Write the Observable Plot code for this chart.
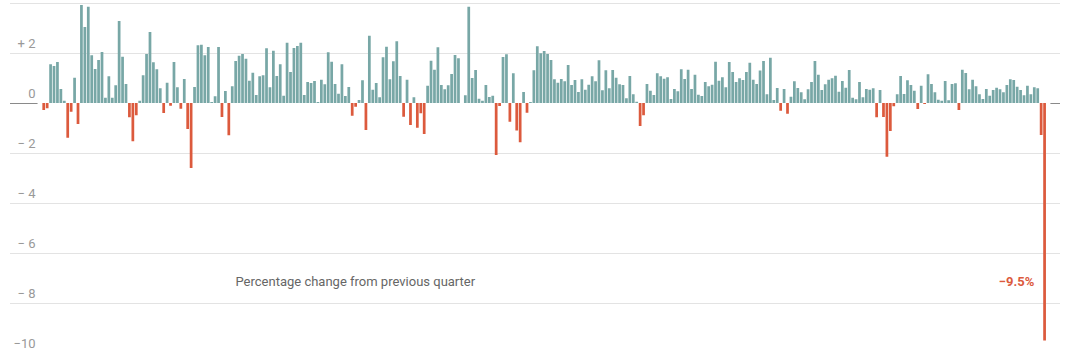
<!DOCTYPE html>
<html><head><meta charset="utf-8">
<script src="https://cdn.jsdelivr.net/npm/d3@7"></script>
<script src="https://cdn.jsdelivr.net/npm/@observablehq/plot@0.6"></script>
<style>body{margin:0;background:#fff;} #chart{width:1071px;height:353px;}</style>
</head><body><div id="chart"></div>
<script>
// Real GDP, percentage change from previous quarter, 1947 Q2 – 2020 Q2
const startYear = 1947;
const startQuarter = 2;
const values = [
 -0.28,-0.21,1.55,1.48,1.64,0.56,0.09,-1.39,-0.35,1.01,
 -0.84,3.92,3.04,3.85,1.91,1.36,1.72,2.04,0.21,1.07,
 0.21,0.71,3.28,1.85,0.76,-0.57,-1.53,-0.49,0.09,1.11,
 1.96,2.84,1.63,1.35,0.59,-0.40,0.81,-0.11,1.64,0.63,
 -0.23,0.96,-1.04,-2.60,0.64,2.31,2.33,1.91,2.24,0.04,
 0.27,2.24,-0.56,0.48,-1.29,0.67,1.68,1.89,1.96,1.77,
 0.89,1.21,0.32,1.07,1.11,2.19,0.63,2.09,1.08,1.55,
 0.29,2.41,1.24,2.20,2.28,2.41,0.32,0.84,0.80,0.88,
 0.04,0.93,0.75,2.03,1.65,0.76,0.37,1.55,0.28,0.64,
 -0.51,-0.15,0.12,0.91,-1.08,2.69,0.53,0.80,0.23,1.83,
 2.25,0.95,1.67,2.47,1.08,-0.55,0.93,-0.88,0.23,-0.99,
 -0.41,-1.24,0.69,1.69,1.33,2.23,0.72,0.55,0.71,1.16,
 1.92,1.79,0.00,0.31,3.85,1.00,1.32,0.17,0.09,0.72,
 0.24,0.29,-2.08,-0.12,1.84,1.95,-0.75,1.19,-1.10,-1.57,
 0.44,-0.39,0.04,1.31,2.27,1.99,2.08,1.96,1.72,0.95,
 0.81,0.96,0.87,1.52,0.72,0.92,0.44,0.95,0.53,0.73,
 1.07,0.87,1.71,0.51,1.31,0.59,1.32,1.01,0.75,0.72,
 0.19,1.08,0.35,0.05,-0.92,-0.49,0.76,0.49,0.32,1.19,
 1.07,0.97,1.03,0.16,0.56,0.47,1.35,0.96,1.33,0.56,
 1.13,0.33,0.28,0.84,0.67,0.73,1.65,0.89,1.03,0.63,
 1.64,1.24,0.84,0.99,0.92,1.24,1.61,0.93,0.76,1.30,
 1.68,0.35,1.81,0.12,0.60,-0.31,0.56,-0.43,0.25,0.87,
 0.60,0.43,0.15,0.55,0.84,1.68,1.13,0.52,0.75,0.93,
 0.99,1.09,0.45,0.88,0.61,1.32,0.21,0.15,0.84,0.23,
 0.56,0.53,0.59,-0.57,0.52,-0.56,-2.15,-1.12,-0.13,0.35,
 1.08,0.36,0.91,0.72,0.49,-0.24,0.69,-0.04,1.15,0.76,
 0.43,0.13,0.09,0.88,0.11,0.76,0.79,-0.28,1.33,1.20,
 0.55,0.93,0.67,0.35,0.16,0.56,0.29,0.52,0.61,0.55,
 0.43,0.72,0.95,0.92,0.65,0.52,0.31,0.69,0.35,0.63,
 0.59,-1.28,-9.50
];
const tickValues = [2, 0, -2, -4, -6, -8, -10];
const tickLabels = ["+ 2", "0", "− 2", "− 4", "− 6", "− 8", "−10"];
const gridValues = [4, 2, -2, -4, -6, -8, -10];
const noteText = "Percentage change from previous quarter";
const lastLabel = "−9.5%";

const teal = "#78a7a6";
const red = "#dc5a3d";

const data = values.map((v, i) => {
  const q = startQuarter - 1 + i;
  return {i, v, label: `${startYear + Math.floor(q / 4)} Q${(q % 4) + 1}`};
});
const n = values.length;
const noteY = -7.12;

const chart = Plot.plot({
  width: 1071, height: 353,
  marginTop: 3, marginBottom: 0, marginLeft: 10, marginRight: 11,
  x: {domain: [-9.34, n + 4.0], axis: null},
  y: {domain: [-10, 4], axis: null},
  style: {fontFamily: "Roboto, 'Liberation Sans', sans-serif", background: "#fff"},
  marks: [
    Plot.ruleY(gridValues, {stroke: "#e3e3e3", strokeWidth: 1}),
    Plot.ruleY([0], {stroke: "#8a8a8a", strokeWidth: 1}),
    Plot.ruleY([0], {x1: -1.3, x2: n + 1.2, stroke: "#fff", strokeWidth: 3}),
    Plot.rect(data, {
      x1: "i", x2: d => d.i + 1, y1: 0, y2: "v",
      fill: d => d.v < 0 ? red : teal,
      insetLeft: 0.35, insetRight: 0.35
    }),
    Plot.text(tickValues, {
      y: d => d, text: (d, i) => tickLabels[i],
      frameAnchor: "left", textAnchor: "end", dx: 25, dy: -9.5,
      fill: "#999", fontSize: 13
    }),
    Plot.text([noteText], {
      x: 56.3, y: noteY, text: d => d, textAnchor: "start",
      fill: "#666", fontSize: 13
    }),
    Plot.text([lastLabel], {
      x: n - 1, y: noteY, text: d => d, textAnchor: "end", dx: -9,
      fill: red, fontSize: 13, fontWeight: "bold"
    })
  ]
});
document.getElementById("chart").appendChild(chart);
</script>
</body></html>
